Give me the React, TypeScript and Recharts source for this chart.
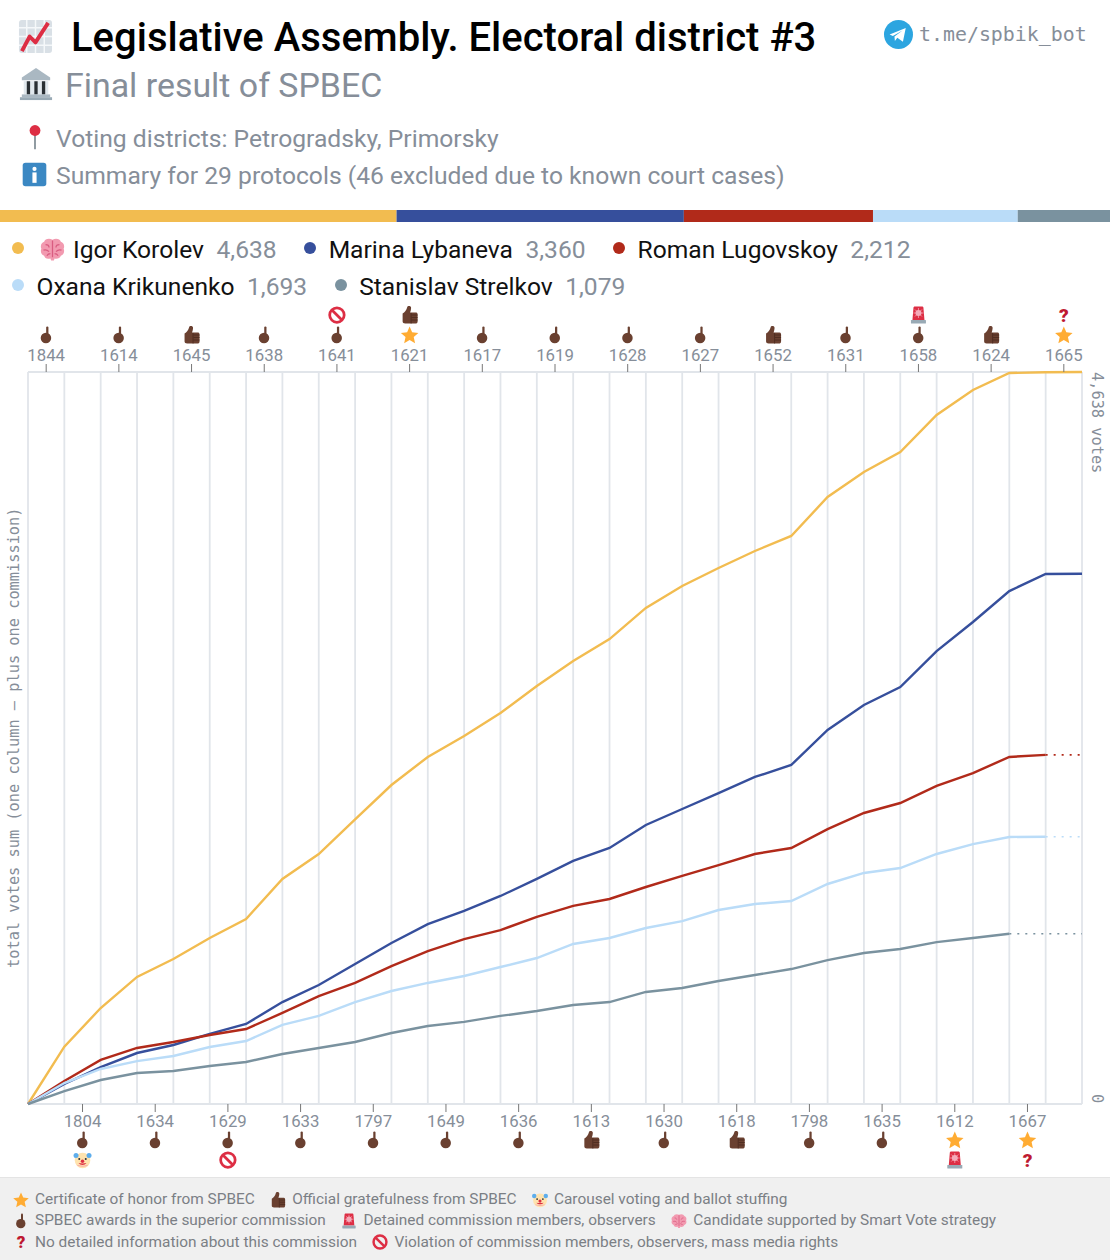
import React from 'react'
import { BarChart, Bar, LineChart, Line, XAxis, YAxis, CartesianGrid } from 'recharts'

// Cumulative votes after each commission
const korolevVotes = [0, 363, 608, 805, 919, 1052, 1172, 1426, 1584, 1803, 2021, 2199, 2332, 2477, 2648, 2807, 2946, 3143, 3282, 3396, 3504, 3599, 3846, 4004, 4131, 4366, 4524, 4632, 4636, 4638]
const lybanevaVotes = [0, 127, 234, 323, 374, 444, 507, 646, 754, 887, 1020, 1140, 1223, 1318, 1426, 1540, 1622, 1768, 1869, 1970, 2072, 2148, 2370, 2528, 2642, 2870, 3054, 3250, 3358, 3360]
const lugovskoyVotes = [0, 146, 279, 355, 393, 437, 475, 577, 684, 767, 874, 969, 1045, 1102, 1185, 1255, 1299, 1375, 1445, 1514, 1584, 1622, 1742, 1844, 1907, 2015, 2097, 2199, 2212]
const krikunenkoVotes = [0, 133, 222, 272, 304, 361, 399, 501, 558, 646, 716, 767, 811, 868, 925, 1014, 1052, 1115, 1159, 1229, 1267, 1286, 1394, 1464, 1495, 1584, 1647, 1692, 1693]
const strelkovVotes = [0, 82, 152, 196, 209, 241, 266, 317, 355, 393, 450, 494, 520, 558, 589, 627, 646, 710, 735, 779, 817, 855, 912, 957, 982, 1026, 1052, 1079]

const candidates = ['Igor Korolev', 'Marina Lybaneva', 'Roman Lugovskoy', 'Oxana Krikunenko', 'Stanislav Strelkov']
const totals = [4638, 3360, 2212, 1693, 1079]
const colors = ['#F2BC50', '#364F9C', '#B12A1A', '#BADCF8', '#7A929F']
const seriesVotes = [korolevVotes, lybanevaVotes, lugovskoyVotes, krikunenkoVotes, strelkovVotes]

const columnEdges = Array.from({ length: 30 }, (_, i) => i)

const topCommissions = ['1844', '1614', '1645', '1638', '1641', '1621', '1617', '1619', '1628', '1627', '1652', '1631', '1658', '1624', '1665']
const topMarks = [['point'], ['point'], ['thumb'], ['point'], ['point', 'noentry'], ['star', 'thumb'], ['point'], ['point'], ['point'], ['point'], ['thumb'], ['point'], ['point', 'siren'], ['thumb'], ['star', 'question']]
const topTicks = [0.5, 2.5, 4.5, 6.5, 8.5, 10.5, 12.5, 14.5, 16.5, 18.5, 20.5, 22.5, 24.5, 26.5, 28.5]

const bottomCommissions = ['1804', '1634', '1629', '1633', '1797', '1649', '1636', '1613', '1630', '1618', '1798', '1635', '1612', '1667']
const bottomMarks = [['point', 'clown'], ['point'], ['point', 'noentry'], ['point'], ['point'], ['point'], ['point'], ['thumb'], ['point'], ['thumb'], ['point'], ['point'], ['star', 'siren'], ['star', 'question']]
const bottomTicks = [1.5, 3.5, 5.5, 7.5, 9.5, 11.5, 13.5, 15.5, 17.5, 19.5, 21.5, 23.5, 25.5, 27.5]

const footerRows = [
  [['star', 'Certificate of honor from SPBEC'], ['thumb', 'Official gratefulness from SPBEC'], ['clown', 'Carousel voting and ballot stuffing']],
  [['point', 'SPBEC awards in the superior commission'], ['siren', 'Detained commission members, observers'], ['brain', 'Candidate supported by Smart Vote strategy']],
  [['question', 'No detailed information about this commission'], ['noentry', 'Violation of commission members, observers, mass media rights']],
]

const GREY = '#868E99'
const SKIN = '#6A4030'

const chartRows = columnEdges.map((step) => {
  const row: any = { step }
  seriesVotes.forEach((votes, s) => {
    row[`s${s}`] = step < votes.length ? votes[step] : null
    // after the last commission with votes the line goes on dotted
    row[`d${s}`] = votes.length < 30 && step >= votes.length - 1 ? totals[s] : null
  })
  return row
})

const barRow = [totals.reduce((acc: any, t, i) => ({ ...acc, [`c${i}`]: t }), { name: 'all' })]

function Glyph({ name, x, y, size }: { name: string; x: number; y: number; size: number }) {
  const t = `translate(${x - size / 2},${y - size / 2}) scale(${size / 36})`
  switch (name) {
    case 'star':
      return <g transform={t}><path fill="#FFAC33" d="M18 1l5 11.500 12.500 1.300-9.300 8.300 2.700 12.400L18 28l-10.900 6.500 2.700-12.400L.5 13.800 13 12.500z" /></g>
    case 'thumb':
      return (
        <g transform={t}>
          <path fill={SKIN} d="M4 15c4-2 8-7 9-12 .5-4 8-4 8 1 0 3-1 6-2 9h12c3 0 3 3 3 5v13c0 3-2 4-4 4H9c-3 0-5-2-5-4z" />
          <path stroke="#4A2A1E" strokeWidth="1.600" d="M22 18h12M22 23h12M22 28h12M21 14v21" fill="none" />
        </g>
      )
    case 'point':
      return (
        <g transform={t}>
          <rect x="18" y="1" width="4.500" height="19" rx="2.200" fill={SKIN} />
          <circle cx="17.500" cy="24" r="10.500" fill={SKIN} />
        </g>
      )
    case 'noentry':
      return (
        <g transform={t} fill="none" stroke="#DD2E44" strokeWidth="5.500">
          <circle cx="18" cy="18" r="14.500" />
          <path d="M8 8l20 20" />
        </g>
      )
    case 'clown':
      return (
        <g transform={t}>
          <circle cx="18" cy="19" r="15.500" fill="#FFE3AE" />
          <circle cx="5" cy="9" r="5" fill="#5DADEC" />
          <circle cx="31" cy="9" r="5" fill="#5DADEC" />
          <circle cx="11.500" cy="16" r="2" fill="#292F33" />
          <circle cx="24.500" cy="16" r="2" fill="#292F33" />
          <path fill="#F7A8A8" d="M6 27c3 6 21 6 24 0-6 3-18 3-24 0z" />
          <path fill="#DD2E44" d="M10 24c4 5 12 5 16 0-5 1-11 1-16 0z" />
          <circle cx="18" cy="20.500" r="3.500" fill="#DD2E44" />
        </g>
      )
    case 'siren':
      return (
        <g transform={t}>
          <path fill="#DD2E44" d="M6 28L8 4c0-2 1-3 3-3h14c2 0 3 1 3 3l2 24z" />
          <circle cx="18" cy="14" r="6" fill="#F4ABBA" />
          <path stroke="#F4ABBA" strokeWidth="1.500" d="M18 4v20M8 14h20M11 7l14 14M25 7L11 21" />
          <rect x="3" y="28" width="30" height="7" rx="1" fill="#99AAB5" />
        </g>
      )
    case 'question':
      return <g transform={t}><text x="18" y="31" textAnchor="middle" fontFamily="Roboto" fontWeight="900" fontSize="38" fill="#BE1931">?</text></g>
    case 'brain':
      return (
        <g transform={t}>
          <path fill="#F29AB0" d="M18 4c5-3 11-1 12 3 4 1 6 6 4 10 2 4 0 9-4 10-1 4-6 5-9 4l-1 3h-4l-1-3C10 32 7 31 6 27c-4-1-6-6-4-10-2-4 0-9 4-10 1-4 7-6 12-3z" />
          <path fill="none" stroke="#D95C80" strokeWidth="1.800" d="M18 5v24M8 11c3 0 5 2 5 4M28 11c-3 0-5 2-5 4M5 19c3-1 6 0 8 2M31 19c-3-1-6 0-8 2M10 27c1-2 3-3 5-3M26 27c-1-2-3-3-5-3" />
        </g>
      )
    case 'chart':
      return (
        <g transform={t}>
          <rect x="1" y="1" width="34" height="34" rx="3" fill="#D9E0E6" />
          <path stroke="#F5F8FA" strokeWidth="1.500" d="M9 1v34M18 1v34M27 1v34M1 9h34M1 18h34M1 27h34" />
          <path fill="none" stroke="#DD2E44" strokeWidth="4" strokeLinejoin="round" d="M4 33l8-15 6 6L31 4" />
        </g>
      )
    case 'bank':
      return (
        <g transform={t}>
          <path fill="#AAB8C2" d="M18 1L33 11v3H3v-3z" />
          <rect x="5" y="15" width="26" height="14" fill="#E1E8ED" />
          <path stroke="#292F33" strokeWidth="3.500" d="M10 15v14M18 15v14M26 15v14" />
          <rect x="3" y="29" width="30" height="3" fill="#AAB8C2" />
          <rect x="1" y="32" width="34" height="3" fill="#99AAB5" />
        </g>
      )
    case 'pin':
      return (
        <g transform={t}>
          <path stroke="#66757F" strokeWidth="2" d="M18 10v25" />
          <circle cx="18" cy="9" r="7.500" fill="#DD2E44" />
        </g>
      )
    case 'info':
      return (
        <g transform={t}>
          <rect x="1" y="1" width="34" height="34" rx="4" fill="#3B88C3" />
          <circle cx="18" cy="10" r="3" fill="#fff" />
          <rect x="15" y="15" width="6" height="15" fill="#fff" />
        </g>
      )
    case 'telegram':
      return (
        <g transform={t}>
          <circle cx="18" cy="18" r="18" fill="#2CA5E0" />
          <path fill="#fff" d="M7 18l20-8-3.500 17-7-5-3 4-.5-5.500L23 13 11 20z" />
        </g>
      )
    default:
      return null
  }
}

function Icon({ name, size, style }: { name: string; size: number; style?: React.CSSProperties }) {
  return (
    <svg width={size} height={size} viewBox="0 0 36 36" style={{ display: 'block', flexShrink: 0, overflow: 'visible', ...style }}>
      <Glyph name={name} x={18} y={18} size={36} />
    </svg>
  )
}

const TopTick = ({ x, y, index }: any) => (
  <g>
    <text x={x} y={y - 3} textAnchor="middle" fontFamily="Roboto" fontSize={16.8} fill={GREY}>{topCommissions[index]}</text>
    {topMarks[index].map((m, i) => (
      <Glyph key={m} name={m} x={x} y={y - 29 - i * 20} size={18} />
    ))}
  </g>
)

const BottomTick = ({ x, y, index }: any) => (
  <g>
    <text x={x} y={y + 15} textAnchor="middle" fontFamily="Roboto" fontSize={16.8} fill={GREY}>{bottomCommissions[index]}</text>
    {bottomMarks[index].map((m, i) => (
      <Glyph key={m} name={m} x={x} y={y + 28 + i * 20} size={18} />
    ))}
  </g>
)

const LegendItem = ({ index }: { index: number }) => (
  <div style={{ display: 'flex', alignItems: 'center', marginRight: 27.5 }}>
    <div style={{ width: 12, height: 12, borderRadius: 6, background: colors[index], marginRight: 12.5, marginTop: -4 }} />
    {index === 0 && <Icon name="brain" size={25} style={{ marginRight: 8.5, marginLeft: 3, marginTop: -2 }} />}
    <span style={{ color: '#111' }}>{candidates[index]}</span>
    <span style={{ color: GREY, marginLeft: 12.5 }}>{totals[index].toLocaleString('en-US')}</span>
  </div>
)

const abs = (left: number, top: number, extra?: React.CSSProperties): React.CSSProperties => ({
  position: 'absolute',
  left,
  top,
  whiteSpace: 'nowrap',
  ...extra,
})

export default function App() {
  return (
    <div style={{ position: 'absolute', left: 0, top: 0, width: 1110, height: 1260, overflow: 'hidden', background: '#fff', fontFamily: 'Roboto, sans-serif' }}>
      {/* header */}
      <Icon name="chart" size={35} style={abs(18, 19)} />
      <div style={abs(71, 15, { fontSize: 40, lineHeight: '46px', fontWeight: 500, color: '#000' })}>Legislative Assembly. Electoral district #3</div>
      <Icon name="telegram" size={29} style={abs(884, 20)} />
      <div style={abs(919, 23, { fontFamily: '"DejaVu Sans Mono"', fontSize: 19.900, lineHeight: '24px', color: GREY })}>t.me/spbik_bot</div>
      <Icon name="bank" size={34} style={abs(19, 67)} />
      <div style={abs(65, 66, { fontSize: 33.900, lineHeight: '40px', color: GREY })}>Final result of SPBEC</div>
      <Icon name="pin" size={26} style={abs(22, 124)} />
      <div style={abs(56, 124, { fontSize: 24.650, lineHeight: '30px', color: GREY })}>Voting districts: Petrogradsky, Primorsky</div>
      <Icon name="info" size={25} style={abs(22, 162)} />
      <div style={abs(56, 161, { fontSize: 24.650, lineHeight: '30px', color: GREY })}>Summary for 29 protocols (46 excluded due to known court cases)</div>

      {/* share of votes strip */}
      <div style={abs(0, 210)}>
        <BarChart width={1110} height={12} data={barRow} layout="vertical" margin={{ top: 0, right: 0, bottom: 0, left: 0 }} barCategoryGap={0}>
          <XAxis type="number" hide domain={[0, totals.reduce((a, b) => a + b, 0)]} />
          <YAxis type="category" dataKey="name" hide />
          {totals.map((_, i) => (
            <Bar key={i} dataKey={`c${i}`} stackId="share" fill={colors[i]} isAnimationActive={false} />
          ))}
        </BarChart>
      </div>

      {/* legend */}
      <div style={abs(12, 236, { display: 'flex', fontSize: 24.600, lineHeight: '28px' })}>
        {[0, 1, 2].map((i) => <LegendItem key={i} index={i} />)}
      </div>
      <div style={abs(12, 273, { display: 'flex', fontSize: 24.600, lineHeight: '28px' })}>
        {[3, 4].map((i) => <LegendItem key={i} index={i} />)}
      </div>

      {/* main chart */}
      <div style={abs(0, 0)}>
        <LineChart width={1110} height={1260} data={chartRows} margin={{ top: 322, right: 28, bottom: 106, left: 28 }}>
          <CartesianGrid
            xAxisId="top"
            stroke="#E1E5EA"
            strokeWidth={1.8}
            verticalCoordinatesGenerator={({ offset }: any) => columnEdges.map((c) => offset.left + (c / 29) * offset.width)}
            horizontalCoordinatesGenerator={({ offset }: any) => [offset.top, offset.top + offset.height]}
          />
          <XAxis xAxisId="top" orientation="top" type="number" dataKey="step" domain={[0, 29]} ticks={topTicks} interval={0} height={50} axisLine={false} tickSize={8} tickMargin={0} tickLine={{ stroke: '#777' }} tick={<TopTick />} />
          <XAxis xAxisId="bottom" orientation="bottom" type="number" dataKey="step" domain={[0, 29]} ticks={bottomTicks} interval={0} height={50} axisLine={false} tickSize={8} tickMargin={0} tickLine={{ stroke: '#777' }} tick={<BottomTick />} />
          <YAxis hide domain={[0, totals[0]]} />
          {candidates.map((name, i) => (
            <Line key={name} xAxisId="top" dataKey={`s${i}`} name={name} stroke={colors[i]} strokeWidth={2.4} dot={false} isAnimationActive={false} />
          ))}
          {candidates.map((name, i) => (
            <Line key={`${name} tail`} xAxisId="top" dataKey={`d${i}`} stroke={colors[i]} strokeWidth={1.6} strokeDasharray="2 6" dot={false} isAnimationActive={false} />
          ))}
        </LineChart>
      </div>

      {/* axis captions */}
      <svg width={1110} height={1260} style={abs(0, 0, { pointerEvents: 'none' })}>
        <g fontFamily='"DejaVu Sans Mono"' fontSize={15.3} fill={GREY}>
          <text transform="translate(19,968) rotate(-90)">total votes sum (one column – plus one commission)</text>
          <text transform="translate(1092,372) rotate(90)">4,638 votes</text>
          <text transform="translate(1092,1094) rotate(90)">0</text>
        </g>
      </svg>

      {/* footer legend */}
      <div style={abs(0, 1177, { width: 1110, height: 83, background: '#F0F0F0', borderTop: '1px solid #E4E4E4', boxSizing: 'border-box', paddingTop: 11, fontSize: 15.4, lineHeight: '21px', color: '#7B7F85' })}>
        {footerRows.map((row, r) => (
          <div key={r} style={{ display: 'flex', alignItems: 'center', height: r === 0 ? 21 : 21.5, paddingLeft: 13 }}>
            {row.map(([icon, label]) => (
              <div key={label} style={{ display: 'flex', alignItems: 'center', marginRight: 15.5 }}>
                <Icon name={icon} size={16} style={{ marginRight: 6 }} />
                <span>{label}</span>
              </div>
            ))}
          </div>
        ))}
      </div>
    </div>
  )
}
